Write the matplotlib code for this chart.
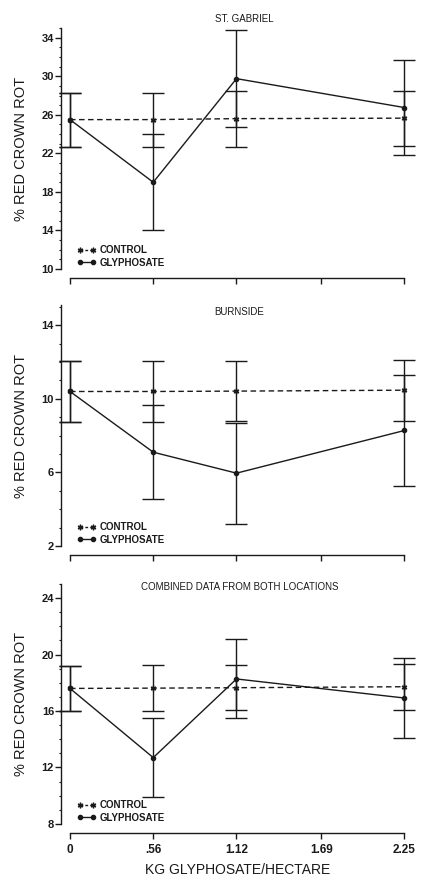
# Red crown rot vs glyphosate rate: three stacked panels (St. Gabriel, Burnside, combined)

import matplotlib
matplotlib.use("Agg")
import matplotlib.pyplot as plt
from matplotlib.lines import Line2D
from matplotlib.ticker import MultipleLocator

plt.rcParams['font.family'] = ['Liberation Sans', 'DejaVu Sans']

# 1. Data
doses = [0, 0.56, 1.12, 2.25]
tick_pos = [0, 0.56, 1.12, 1.69, 2.25]
tick_labels = ['0', '.56', '1.12', '1.69', '2.25']

gab_control = [25.5, 25.5, 25.6, 25.65]
gab_control_err = [2.8, 2.8, 2.9, 2.85]
gab_glyph = [25.5, 19.0, 29.75, 26.75]
gab_glyph_err = [2.8, 5.0, 5.0, 4.9]

burn_control = [10.4, 10.4, 10.42, 10.47]
burn_control_err = [1.65, 1.65, 1.63, 1.65]
burn_glyph = [10.4, 7.1, 5.96, 8.28]
burn_glyph_err = [1.65, 2.55, 2.75, 3.0]

comb_control = [17.6, 17.62, 17.65, 17.72]
comb_control_err = [1.6, 1.62, 1.6, 1.63]
comb_glyph = [17.6, 12.7, 18.27, 16.92]
comb_glyph_err = [1.6, 2.8, 2.8, 2.8]

panels = [
    ("ST. GABRIEL", gab_control, gab_control_err, gab_glyph, gab_glyph_err,
     (10, 35), [10, 14, 18, 22, 26, 30, 34], (0.52, 1.037)),
    ("BURNSIDE", burn_control, burn_control_err, burn_glyph, burn_glyph_err,
     (2, 15.1), [2, 6, 10, 14], (0.503, 0.971)),
    ("COMBINED DATA FROM BOTH LOCATIONS", comb_control, comb_control_err, comb_glyph, comb_glyph_err,
     (8, 25), [8, 12, 16, 20, 24], (0.506, 0.9875)),
]

# axes positions in figure fraction (left, bottom, width, height)
positions = [
    [0.1643, 0.6929, 0.7887, 0.2751],
    [0.1643, 0.3767, 0.7887, 0.2751],
    [0.1643, 0.0594, 0.7887, 0.2740],
]

ink = '#1a1a1a'

fig = plt.figure(figsize=(4.26, 8.76), dpi=100)

for i, (titre, ctrl, ctrl_err, gly, gly_err, ylim, yticks, tpos) in enumerate(panels):
    ax = fig.add_axes(positions[i])

    # control: dashed line
    c1 = ax.errorbar(doses, ctrl, yerr=ctrl_err, color=ink, linestyle=(0, (4, 2.5)), linewidth=1.0,
                     marker=(6, 2, 0), markersize=4, capsize=8, elinewidth=1.0, capthick=1.0)
    # glyphosate: solid line
    c2 = ax.errorbar(doses, gly, yerr=gly_err, color=ink, linestyle='-', linewidth=1.0,
                     marker='o', markersize=3, capsize=8, elinewidth=1.0, capthick=1.0)
    # caps at x=0 must not be cut by the axes box
    for cont in (c1, c2):
        for art in cont.get_children():
            art.set_clip_on(False)

    ax.set_xlim(0, 2.26)
    ax.set_ylim(*ylim)
    ax.set_yticks(yticks)
    ax.yaxis.set_minor_locator(MultipleLocator(1))
    ax.set_xticks(tick_pos)

    # detached axes like the original plotter output
    ax.spines['top'].set_visible(False)
    ax.spines['right'].set_visible(False)
    ax.spines['left'].set_position(('outward', 6.5))
    ax.spines['bottom'].set_position(('outward', 6.5))
    ax.spines['bottom'].set_bounds(0, 2.25)
    for s in ('left', 'bottom'):
        ax.spines[s].set_linewidth(1.0)
        ax.spines[s].set_color(ink)

    ax.tick_params(axis='y', which='major', direction='out', length=4, width=1.0, pad=1,
                   labelsize=8, colors=ink)
    ax.tick_params(axis='y', which='minor', direction='out', length=1.8, width=0.8, colors=ink)
    ax.tick_params(axis='x', which='major', direction='out', length=4, width=1.0, pad=4,
                   labelsize=8.5, colors=ink)
    for lab in ax.get_yticklabels():
        lab.set_fontweight('bold')

    if i == 2:
        ax.set_xticklabels(tick_labels, fontweight='bold')
        ax.set_xlabel("KG GLYPHOSATE/HECTARE", fontsize=10, labelpad=5, color=ink)
    else:
        ax.set_xticklabels([])

    ax.set_ylabel("% RED CROWN ROT", fontsize=10.5, color=ink)
    ax.yaxis.set_label_coords(-0.125, 0.5)

    ax.text(tpos[0], tpos[1], titre, transform=ax.transAxes, ha='center', va='center',
            fontsize=7, color=ink)

    # legend in lower left corner
    handles = [
        Line2D([], [], color=ink, linestyle=(0, (2, 1.5)), linewidth=1.0, marker=(6, 2, 0), markersize=4),
        Line2D([], [], color=ink, linestyle='-', linewidth=1.0, marker='o', markersize=3),
    ]
    leg = ax.legend(handles, ["CONTROL", "GLYPHOSATE"], loc='lower left', bbox_to_anchor=(0.02, 0.005),
                    frameon=False, fontsize=7, handlelength=2.0, handletextpad=0.4,
                    labelspacing=0.25, borderpad=0, borderaxespad=0, numpoints=2)
    for t in leg.get_texts():
        t.set_fontweight('bold')
        t.set_color(ink)

plt.savefig("out.png", dpi=100)
